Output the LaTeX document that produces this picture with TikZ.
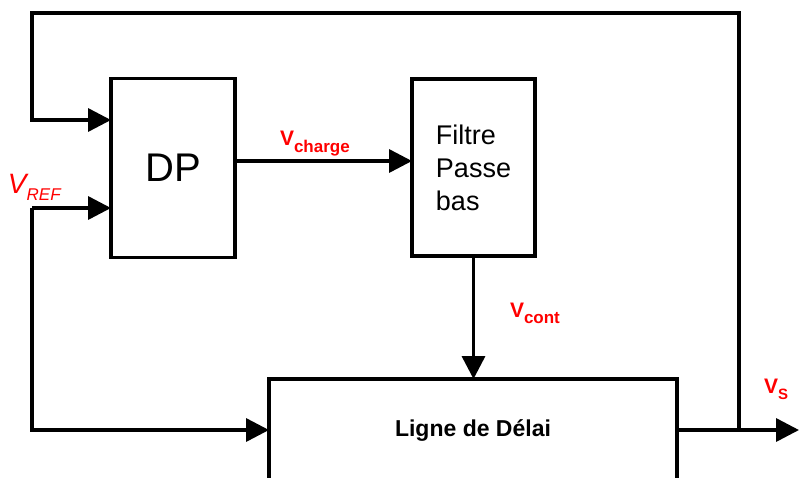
\documentclass[tikz,border=0pt]{standalone}
\usepackage{fontspec}
\setmainfont{Liberation Sans}
\usetikzlibrary{arrows.meta}
\definecolor{lbl}{RGB}{255,0,0}
\begin{document}
\begin{tikzpicture}[x=1pt,y=-1pt,
  blk/.style={draw, line width=3.5pt, inner sep=0pt, outer sep=0pt},
  wire/.style={line width=3.5pt},
  arr/.style={wire, -{Triangle[length=23pt,width=23pt]}},
  lab/.style={inner sep=0pt, outer sep=0pt, anchor=base west, text=lbl, font=\bfseries\fontsize{21}{21}\selectfont}
]
\useasboundingbox (0,0) rectangle (799,477);
\clip (0,0) rectangle (799,477);
\fill[white] (0,0) rectangle (799,477);

% blocks
\node[blk, minimum width=124pt, minimum height=179pt, font=\fontsize{40}{40}\selectfont] (dp) at (173,168) {DP};
\node[blk, minimum width=123pt, minimum height=177pt, align=left, font=\fontsize{27}{33}\selectfont] (fp) at (473.5,167.5) {Filtre\\Passe\\bas};
\node[blk, minimum width=408pt, minimum height=102pt, font=\bfseries\fontsize{23}{23}\selectfont] (lg) at (473,430) {Ligne de Délai};

% coordinates
\coordinate (split) at (739,430);
\coordinate (tl) at (32,13);
\coordinate (in1) at (32,120);
\coordinate (vref) at (32,208);
\coordinate (vch) at (300,161);
\coordinate (out) at (799,430);

% connectors
\draw[arr] (lg.east) -- (out);
\draw[arr] (split) |- (tl) -- (in1) -- (dp.west |- in1);
\draw[arr] (vref) -- (dp.west |- vref);
\draw[arr] (vref) |- (lg.west);
\draw[arr] (dp.east |- vch) -- (fp.west |- vch);
\draw[arr] (fp.south) -- (fp.south |- lg.north);

% labels
\node[lab] (lvch) at (280,145) {V\raisebox{-7pt}{\fontsize{17}{17}\selectfont charge}};
\node[lab] (lvcont) at (510,317) {V\raisebox{-6pt}{\fontsize{17}{17}\selectfont cont}};
\node[lab] (lvs) at (764,393) {V\raisebox{-6pt}{\fontsize{15}{15}\selectfont S}};
\node[inner sep=0pt, outer sep=0pt, anchor=base west, text=lbl, font=\itshape\fontsize{28}{28}\selectfont] (lvref) at (8,193) {V\raisebox{-7pt}{\fontsize{17}{17}\selectfont REF}};
\end{tikzpicture}
\end{document}
